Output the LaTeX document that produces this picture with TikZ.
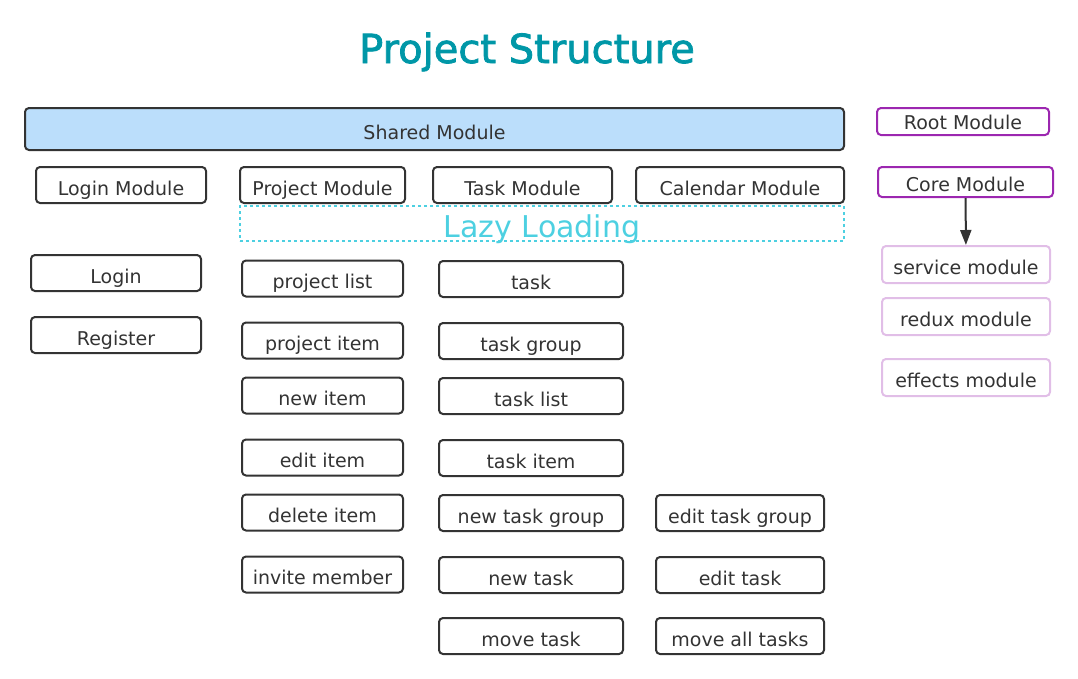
\documentclass[tikz,border=0pt]{standalone}
\usepackage{fontspec}
\setmainfont{DejaVu Sans}
\newfontfamily\titlefont{DejaVu Sans}[BoldFont={DejaVu Sans}, BoldFeatures={FakeBold=2}]
\usetikzlibrary{arrows.meta}
\definecolor{ink}{HTML}{333333}
\definecolor{sharedblue}{HTML}{BBDEFB}
\definecolor{rootpurple}{HTML}{9C27B0}
\definecolor{lightpurple}{HTML}{E1BEE7}
\definecolor{lazycyan}{HTML}{4DD0E1}
\definecolor{titleteal}{HTML}{0097A7}
\tikzstyle{box} = [rectangle, rounded corners=4pt, draw=ink, line width=2pt, inner sep=0pt, text=ink, font=\fontsize{19}{19}\selectfont, text height=20pt, text depth=0pt, minimum height=36pt]
\tikzstyle{rootbox} = [box, draw=rootpurple, minimum width=172pt]
\tikzstyle{subbox} = [box, draw=lightpurple, minimum width=168pt, minimum height=37pt]
\tikzstyle{lazybox} = [rectangle, draw=lazycyan, line width=2pt, dash pattern=on 3pt off 3pt, minimum width=604pt, minimum height=35pt]
\tikzstyle{arrow} = [line width=2pt, draw=ink, -{Triangle[length=15pt,width=11pt]}]

\begin{document}
\begin{tikzpicture}[x=1pt, y=-1pt]
        \useasboundingbox (0,0) rectangle (1078,678);
        \node (Title) [anchor=base, text=titleteal, font=\titlefont\bfseries\fontsize{40}{40}\selectfont] at (527,63) {Project Structure};

        \node (Shared) [box, fill=sharedblue, minimum width=819pt, minimum height=42pt] at (434.5,129) {Shared Module};
        \node (Root) [rootbox, minimum height=27pt, text height=16pt] at (963,121.5) {Root Module};
        \node (Core) [rootbox, minimum width=175pt, minimum height=30pt, text height=18pt] at (965.5,182) {Core Module};
        \node (Service) [subbox] at (966,264.5) {service module};
        \node (Redux) [subbox] at (966,316.5) {redux module};
        \node (Effects) [subbox] at (966,377.5) {effects module};

        \node (LoginModule) [box, minimum width=170pt] at (121,185) {Login Module};
        \node (ProjectModule) [box, minimum width=165pt] at (322.5,185) {Project Module};
        \node (TaskModule) [box, minimum width=179pt] at (522.5,185) {Task Module};
        \node (CalendarModule) [box, minimum width=208pt] at (740,185) {Calendar Module};

        \node (Lazy) [lazybox] at (542,223.5) {};
        \node (LazyText) [anchor=base, text=lazycyan, font=\fontsize{30}{30}\selectfont] at (542,237) {Lazy Loading};

        \node (Login) [box, minimum width=170pt] at (116,273) {Login};
        \node (Register) [box, minimum width=170pt] at (116,335) {Register};

        \node (ProjectList) [box, minimum width=161pt] at (322.5,278.5) {project list};
        \node (ProjectItem) [box, minimum width=161pt] at (322.5,340.5) {project item};
        \node (NewItem) [box, minimum width=161pt] at (322.5,395.5) {new item};
        \node (EditItem) [box, minimum width=161pt] at (322.5,457.5) {edit item};
        \node (DeleteItem) [box, minimum width=161pt] at (322.5,512.5) {delete item};
        \node (InviteMember) [box, minimum width=161pt] at (322.5,574.5) {invite member};

        \node (Task) [box, minimum width=184pt] at (531,279) {task};
        \node (TaskGroup) [box, minimum width=184pt] at (531,341) {task group};
        \node (TaskList) [box, minimum width=184pt] at (531,396) {task list};
        \node (TaskItem) [box, minimum width=184pt] at (531,458) {task item};
        \node (NewTaskGroup) [box, minimum width=184pt] at (531,513) {new task group};
        \node (NewTask) [box, minimum width=184pt] at (531,575) {new task};
        \node (MoveTask) [box, minimum width=184pt] at (531,636) {move task};

        \node (EditTaskGroup) [box, minimum width=168pt] at (740,513) {edit task group};
        \node (EditTask) [box, minimum width=168pt] at (740,575) {edit task};
        \node (MoveAllTasks) [box, minimum width=168pt] at (740,636) {move all tasks};

        \draw [arrow] (Core) -- (Service);
    \end{tikzpicture}
\end{document}
